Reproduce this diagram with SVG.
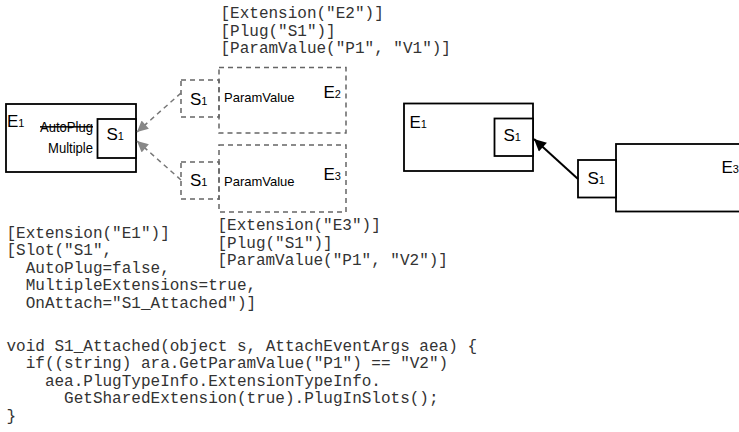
<svg xmlns="http://www.w3.org/2000/svg" width="739" height="432" viewBox="0 0 739 432">
<defs>
<style>
.code{font-family:"Liberation Mono","Courier New",monospace;font-size:16px;fill:#333;white-space:pre}
.lbl{font-family:"Liberation Sans",Arial,sans-serif;font-size:17px;fill:#000}
.mid{font-family:"Liberation Sans",Arial,sans-serif;font-size:15px;fill:#000}
.sm{font-family:"Liberation Sans",Arial,sans-serif;font-size:13px;fill:#000}
.sub{font-size:11px}
.box{fill:#fff;stroke:#000;stroke-width:1.8}
.dbox{fill:none;stroke:#666;stroke-width:1.5;stroke-dasharray:5 4}
.dline{fill:none;stroke:#777;stroke-width:1.5;stroke-dasharray:5 4;marker-end:url(#grayArrow)}
.sline{fill:none;stroke:#000;stroke-width:2;marker-end:url(#blackArrow)}
</style>
<marker id="grayArrow" viewBox="0 0 10 10" refX="10" refY="5" markerWidth="14" markerHeight="11" markerUnits="userSpaceOnUse" orient="auto">
<path d="M0,0 L10,5 L0,10 z" fill="#888"/>
</marker>
<marker id="blackArrow" viewBox="0 0 10 10" refX="10" refY="5" markerWidth="16" markerHeight="12" markerUnits="userSpaceOnUse" orient="auto">
<path d="M0,0 L10,5 L0,10 z" fill="#000"/>
</marker>
</defs>

<!-- Code annotations -->
<g id="code-e2">
<text class="code" x="220.5" y="18">[Extension("E2")]</text>
<text class="code" x="220.5" y="35.5">[Plug("S1")]</text>
<text class="code" x="220.5" y="53">[ParamValue("P1", "V1")]</text>
</g>
<g id="code-e3">
<text class="code" x="217.5" y="230">[Extension("E3")]</text>
<text class="code" x="217.5" y="247.5">[Plug("S1")]</text>
<text class="code" x="217.5" y="265">[ParamValue("P1", "V2")]</text>
</g>
<g id="code-e1">
<text class="code" x="6.5" y="237.5">[Extension("E1")]</text>
<text class="code" x="6.5" y="255">[Slot("S1",</text>
<text class="code" x="6.5" y="272.5">  AutoPlug=false,</text>
<text class="code" x="6.5" y="290">  MultipleExtensions=true,</text>
<text class="code" x="6.5" y="307.5">  OnAttach="S1_Attached")]</text>
<text class="code" x="6.5" y="350.5">void S1_Attached(object s, AttachEventArgs aea) {</text>
<text class="code" x="6.5" y="368">  if((string) ara.GetParamValue("P1") == "V2")</text>
<text class="code" x="6.5" y="385.5">    aea.PlugTypeInfo.ExtensionTypeInfo.</text>
<text class="code" x="6.5" y="403">      GetSharedExtension(true).PlugInSlots();</text>
<text class="code" x="6.5" y="420.5">}</text>
</g>

<!-- Left diagram -->
<g id="e1-left">
<rect class="box" x="6" y="104" width="130" height="68"/>
<text class="lbl" x="7" y="127">E<tspan class="sub">1</tspan></text>
<text class="mid" x="93" y="131.5" text-anchor="end" text-decoration="line-through" textLength="53" lengthAdjust="spacingAndGlyphs">AutoPlug</text>
<text class="mid" x="93" y="153" text-anchor="end" textLength="45" lengthAdjust="spacingAndGlyphs">Multiple</text>
</g>
<g id="s1-left">
<rect class="box" x="97.5" y="119" width="38.5" height="39"/>
<text class="lbl" x="106.5" y="140">S<tspan class="sub">1</tspan></text>
</g>

<g id="e2-dashed">
<rect class="dbox" x="219" y="67.5" width="127" height="65.5"/>
<text class="lbl" x="323.5" y="98">E<tspan class="sub">2</tspan></text>
<text class="sm" x="224" y="102">ParamValue</text>
</g>
<g id="s1-e2-dashed">
<rect class="dbox" x="181" y="80" width="38" height="37"/>
<text class="lbl" x="190" y="104.5">S<tspan class="sub">1</tspan></text>
</g>

<g id="e3-dashed">
<rect class="dbox" x="219" y="145" width="127" height="67"/>
<text class="lbl" x="323.5" y="180">E<tspan class="sub">3</tspan></text>
<text class="sm" x="224" y="186">ParamValue</text>
</g>
<g id="s1-e3-dashed">
<rect class="dbox" x="181" y="162" width="38" height="37"/>
<text class="lbl" x="190" y="186">S<tspan class="sub">1</tspan></text>
</g>

<!-- Right diagram -->
<g id="e1-right">
<rect class="box" x="404" y="103.5" width="129" height="67.5"/>
<text class="lbl" x="409.5" y="128">E<tspan class="sub">1</tspan></text>
</g>
<g id="s1-right">
<rect class="box" x="494.5" y="118.5" width="38.5" height="37.5"/>
<text class="lbl" x="503.5" y="141">S<tspan class="sub">1</tspan></text>
</g>
<g id="e3-right">
<rect class="box" x="616" y="144" width="130" height="67.5"/>
<text class="lbl" x="721.5" y="173">E<tspan class="sub">3</tspan></text>
</g>
<g id="s1-e3-right">
<rect class="box" x="578" y="160" width="38" height="37.5"/>
<text class="lbl" x="587.5" y="184">S<tspan class="sub">1</tspan></text>
</g>

<!-- Connectors -->
<g id="connectors">
<path class="dline" d="M181,93 L137,132"/>
<path class="dline" d="M181,180 L137,141"/>
<path class="sline" d="M578,179 L534,139"/>
</g>
</svg>
